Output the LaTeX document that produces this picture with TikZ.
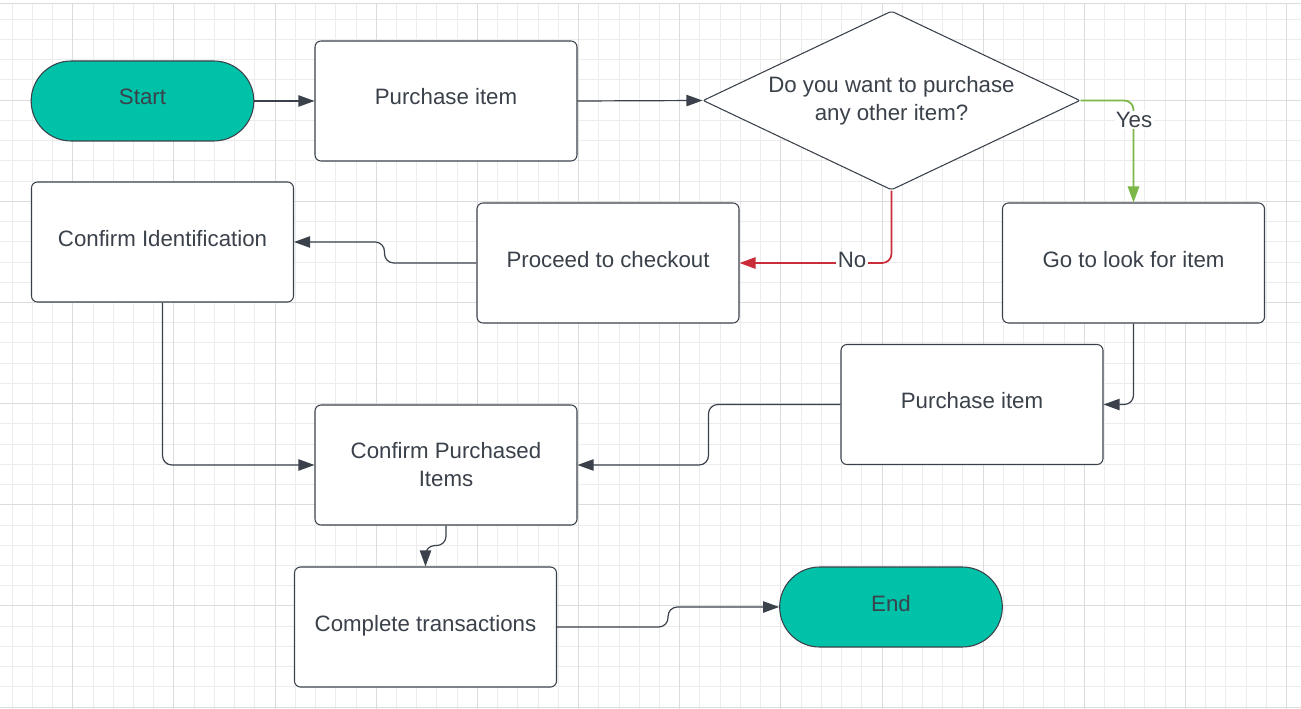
\documentclass[tikz,border=0pt]{standalone}
\usepackage{fontspec}
\setmainfont{Liberation Sans}
\usetikzlibrary{shapes.geometric,arrows.meta,calc}
\definecolor{teal1}{HTML}{00C2A8}
\definecolor{ink}{HTML}{3A414A}
\definecolor{yesgreen}{HTML}{7AB648}
\definecolor{nored}{HTML}{C92D39}
\definecolor{gminor}{HTML}{ECECEC}
\definecolor{gmajor}{HTML}{DCDCDC}
\begin{document}
\begin{tikzpicture}[x=0.75pt,y=-0.75pt,
  font=\fontsize{16.7pt}{21pt}\selectfont,
  minorgrid/.style={gminor, line width=0.75pt},
  majorgrid/.style={gmajor, line width=0.75pt},
  one/.style={text height=0.75em, text depth=0.15em},
  box/.style={draw=ink, line width=0.8pt, fill=white, rounded corners=4.5pt, minimum width=196.5pt, minimum height=90pt, text=ink, align=center, inner sep=0pt},
  term/.style={draw=ink, line width=0.8pt, fill=teal1, rounded corners=30pt, minimum width=167pt, minimum height=60pt, text=ink, inner sep=0pt},
  decision/.style={diamond, draw=ink, line width=0.8pt, fill=white, minimum width=282.75pt, minimum height=134.25pt, inner sep=0pt, rounded corners=1.5pt},
  dectext/.style={text=ink, align=center, inner sep=0pt},
  conn/.style={draw=ink, line width=0.9pt, rounded corners=7pt, -{Triangle[length=12pt,width=8.5pt]}},
  yesline/.style={draw=yesgreen, line width=1.3pt, rounded corners=7pt, -{Triangle[length=12pt,width=8.5pt]}},
  noline/.style={draw=nored, line width=1.3pt, rounded corners=7pt, -{Triangle[length=12pt,width=8.5pt]}},
  lbl/.style={fill=white, text=ink, inner sep=1pt}
]
\useasboundingbox (0,0) rectangle (1301,709);
\fill[white] (0,0) rectangle (1301,709);
% grid
\foreach \i in {0,...,63} \draw[minorgrid] ({12.1+20.23*\i},4) -- ({12.1+20.23*\i},709);
\foreach \i in {0,...,34} \draw[minorgrid] (0,{19.3+20.23*\i}) -- (1301,{19.3+20.23*\i});
\foreach \i in {0,...,12} \draw[majorgrid] ({72.8+101.15*\i},4) -- ({72.8+101.15*\i},709);
\foreach \i in {0,...,6} \draw[majorgrid] (0,{100.2+101.15*\i}) -- (1301,{100.2+101.15*\i});
\draw[gmajor, line width=0.75pt] (0,4) -- (1301,4);

% nodes
\node[term, one] (start) at (142.5,101) {Start};
\node[box, one] (p1) at (446,101) {Purchase item};
\node[decision] (dec) at (891.5,100.5) {};
\node[dectext] (dectxt) at (891.5,101) {Do you want to purchase\\any other item?};
\node[box, one] (ci) at (162.5,242) {Confirm Identification};
\node[box, one] (pc) at (608,263) {Proceed to checkout};
\node[box, one] (go) at (1133.5,263) {Go to look for item};
\node[box, one] (p2) at (972,404.5) {Purchase item};
\node[box] (cp) at (446,465) {Confirm Purchased\\Items};
\node[box, one] (ct) at (425.5,627) {Complete transactions};
\node[term, one] (end) at (891,607) {End};

% connectors
\draw[conn] (start.east) -- (p1.west);
\draw[conn] (p1.east) -- (dec.west);
\draw[yesline] (dec.east) -- (go.north |- dec.east) -- (go.north);
\draw[noline] (dec.south) -- (dec.south |- pc.east) -- (pc.east);
\draw[conn] (pc.west) -- ++(-92,0) |- (ci.east);
\draw[conn] (go.south) |- (p2.east);
\draw[conn] (p2.west) -- ++(-132,0) |- (cp.east);
\draw[conn] (ci.south) |- (cp.west);
\draw[conn] (cp.south) -- ++(0,20) -| (ct.north);
\draw[conn] (ct.east) -- ++(111,0) |- (end.west);

% labels
\node[lbl] (yes) at (1134,120) {Yes};
\node[lbl] (no) at (852,260) {No};
\end{tikzpicture}
\end{document}
